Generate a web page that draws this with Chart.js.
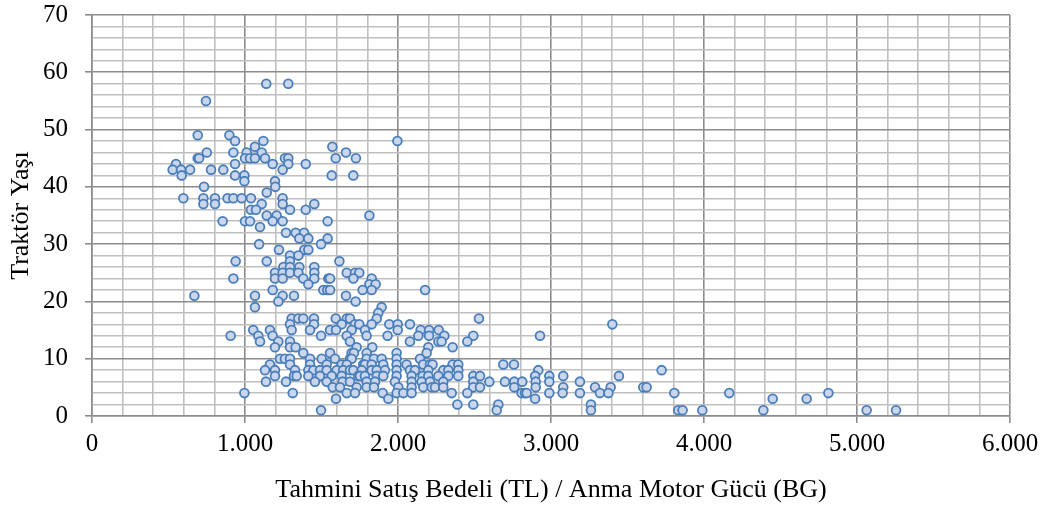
<!DOCTYPE html>
<html>
<head>
    <title>Traktör Yaşı</title>
    <script src="https://cdn.jsdelivr.net/npm/chart.js"></script>
    <style>
        html, body { margin: 0; padding: 0; background: #fff; }
        .chart-container { width: 1041px; height: 506px; position: relative; }
    </style>
</head>
<body>
    <div class="chart-container">
        <canvas id="scatterChart"></canvas>
    </div>

    <script>
        // Traktör yaşları (y) ve her yaştaki bedel / BG değerleri (x)
        const yaslar = [58, 55, 49, 48, 47, 46, 45, 44, 43, 42, 41, 40, 39, 38, 37, 36, 35, 34, 33, 32,
                        31, 30, 29, 28, 27, 26, 25, 24, 23, 22, 21, 20, 19, 18, 17, 16, 15, 14, 13, 12,
                        11, 10, 9, 8, 7, 6, 5, 4, 3, 2, 1];
        const bedelGruplari = [
            [1139, 1283],
            [745],
            [691, 898],
            [935, 1120, 1996],
            [1065, 1571],
            [750, 924, 1011, 1109, 1660],
            [691, 700, 1000, 1033, 1065, 1131, 1261, 1283, 1593, 1725],
            [549, 935, 1181, 1283, 1397],
            [527, 582, 641, 778, 858, 1246],
            [586, 935, 996, 1567, 1708],
            [996, 1196],
            [732, 1198],
            [1142],
            [597, 728, 804, 886, 924, 978, 1039, 1246],
            [728, 804, 1109, 1246, 1453],
            [1039, 1072, 1294, 1397],
            [1142, 1207, 1813],
            [854, 1000, 1033, 1181, 1246, 1540],
            [1098],
            [1268, 1331, 1386],
            [1355, 1414, 1540],
            [1092, 1497],
            [1222, 1388, 1414],
            [1294, 1349],
            [939, 1142, 1294, 1617],
            [1251, 1294, 1355, 1453],
            [1196, 1246, 1294, 1349, 1453, 1665, 1719, 1747],
            [924, 1196, 1246, 1381, 1453, 1545, 1556, 1708, 1828],
            [1414, 1813, 1854],
            [1181, 1512, 1538, 1556, 1769, 1828, 2177],
            [669, 1065, 1246, 1320, 1660],
            [1218, 1723],
            [1065, 1893],
            [1871],
            [1305, 1349, 1381, 1451, 1593, 1665, 1686, 1861, 2529],
            [1294, 1451, 1632, 1719, 1747, 1828, 1943, 1998, 2078, 3401],
            [1054, 1163, 1305, 1425, 1556, 1595, 1697, 1784, 1998, 2148, 2203, 2266],
            [906, 1087, 1181, 1497, 1665, 1795, 1932, 2133, 2203, 2303, 2492, 2928],
            [1098, 1218, 1294, 1686, 2078, 2264, 2285, 2453],
            [1196, 1294, 1331, 1730, 1832, 2198, 2357],
            [1381, 1556, 1697, 1712, 1795, 1991, 2187],
            [1229, 1261, 1294, 1425, 1501, 1588, 1686, 1697, 1795, 1843, 1893, 1991, 2144],
            [1163, 1294, 1425, 1534, 1632, 1665, 1773, 1784, 1828, 1904, 1991, 2056, 2165, 2209, 2226, 2357, 2394, 2688, 2758],
            [1131, 1196, 1327, 1414, 1447, 1490, 1534, 1599, 1642, 1686, 1708, 1763, 1828, 1861, 1915, 1991, 2078, 2111, 2198, 2296, 2329, 2394, 2917, 3723],
            [1196, 1320, 1338, 1414, 1490, 1567, 1632, 1740, 1752, 1784, 1861, 1904, 1991, 2089, 2161, 2198, 2264, 2329, 2394, 2492, 2536, 2896, 2989, 3080, 3444],
            [1137, 1268, 1457, 1534, 1638, 1686, 1795, 1850, 1980, 2089, 2154, 2209, 2296, 2492, 2597, 2699, 2760, 2812, 2900, 2989, 3189],
            [1573, 1621, 1730, 1795, 1843, 2002, 2089, 2165, 2220, 2242, 2296, 2492, 2536, 2760, 2900, 3080, 3288, 3390, 3603, 3625],
            [996, 1312, 1665, 1719, 1900, 1991, 2035, 2089, 2351, 2453, 2808, 2830, 2841, 2989, 3076, 3189, 3320, 3375, 3806, 4165, 4813],
            [1595, 1937, 2896, 4449, 4671],
            [2388, 2492, 2656, 3261],
            [1497, 2645, 3261, 3832, 3860, 3989, 4388, 5063, 5255]
        ];

        const xMin = 0, xMax = 6000, xMajor = 1000, xMinor = 200;
        const yMin = 0, yMax = 70, yMajor = 10, yMinor = 2;
        const xTitle = 'Tahmini Satış Bedeli (TL) / Anma Motor Gücü (BG)';
        const yTitle = 'Traktör Yaşı';

        const points = [];
        yaslar.forEach((yas, i) => {
            bedelGruplari[i].forEach(b => points.push({ x: b, y: yas }));
        });

        const majorColor = '#8c8c8c';
        const minorColor = '#bfbfbf';
        const fontFamily = "'Liberation Serif', 'Times New Roman', serif";

        function formatTR(v) {
            return v.toString().replace(/\B(?=(\d{3})+(?!\d))/g, '.');
        }

        const ctx = document.getElementById('scatterChart').getContext('2d');
        new Chart(ctx, {
            type: 'scatter',
            data: {
                datasets: [{
                    data: points,
                    backgroundColor: '#c9d6ec',
                    borderColor: '#4a7ebb',
                    borderWidth: 1.8,
                    pointRadius: 4.4
                }]
            },
            options: {
                responsive: true,
                maintainAspectRatio: false,
                animation: false,
                layout: { padding: 0 },
                plugins: {
                    legend: { display: false },
                    tooltip: { enabled: false }
                },
                scales: {
                    x: {
                        type: 'linear',
                        min: xMin,
                        max: xMax,
                        afterFit: scale => {
                            scale.height = 90;
                            scale.paddingLeft = 0;
                            scale.paddingRight = 31;
                        },
                        ticks: {
                            stepSize: xMinor,
                            autoSkip: false,
                            maxRotation: 0,
                            padding: 6,
                            color: '#000',
                            font: { family: fontFamily, size: 25 },
                            callback: v => (v % xMajor === 0 ? formatTR(v) : '')
                        },
                        grid: {
                            color: c => (c.tick && c.tick.value % xMajor === 0 ? majorColor : minorColor),
                            lineWidth: 1.6,
                            tickLength: 7,
                            tickColor: c => (c.tick && c.tick.value % xMajor === 0 ? majorColor : 'rgba(0,0,0,0)')
                        },
                        border: { display: true, color: majorColor, width: 1.6 },
                        title: {
                            display: true,
                            text: xTitle,
                            color: '#000',
                            font: { family: fontFamily, size: 26 },
                            padding: { top: 0, bottom: 0 }
                        }
                    },
                    y: {
                        type: 'linear',
                        min: yMin,
                        max: yMax,
                        afterFit: scale => {
                            scale.width = 92;
                            scale.paddingTop = 15;
                            scale.paddingBottom = 0;
                        },
                        ticks: {
                            stepSize: yMinor,
                            autoSkip: false,
                            padding: 17,
                            color: '#000',
                            font: { family: fontFamily, size: 25 },
                            callback: v => (v % yMajor === 0 ? v : '')
                        },
                        grid: {
                            color: c => (c.tick && c.tick.value % yMajor === 0 ? majorColor : minorColor),
                            lineWidth: 1.6,
                            tickLength: 7,
                            tickColor: c => (c.tick && c.tick.value % yMajor === 0 ? majorColor : 'rgba(0,0,0,0)')
                        },
                        border: { display: true, color: majorColor, width: 1.6 },
                        title: {
                            display: true,
                            text: yTitle,
                            color: '#000',
                            font: { family: fontFamily, size: 26 },
                            padding: { top: 6, bottom: 0 }
                        }
                    }
                }
            }
        });
    </script>
</body>
</html>
